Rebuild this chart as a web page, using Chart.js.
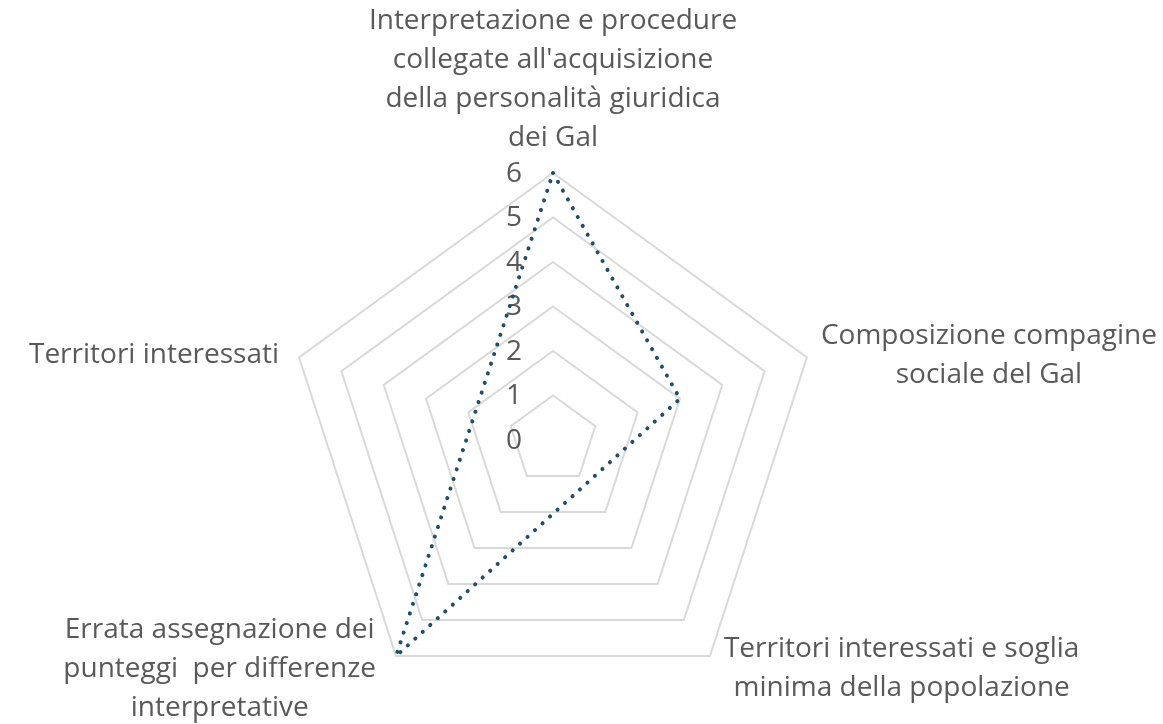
<!DOCTYPE html>
<html>
<head>
<meta charset="utf-8">
<script src="https://cdn.jsdelivr.net/npm/chart.js@4"></script>
<style>
  html, body { margin: 0; padding: 0; background: #fff; }
</style>
</head>
<body>
<canvas id="radarChart" width="1163" height="724"></canvas>
<script>
// Categorie (etichette degli assi)
const categorie = [
  ["Interpretazione e procedure", "collegate all'acquisizione", "della personalità giuridica", "dei Gal"],
  ["Composizione compagine", "sociale del Gal"],
  ["Territori interessati e soglia", "minima della popolazione"],
  ["Errata assegnazione dei", "punteggi  per differenze", "interpretative"],
  ["Territori interessati"]
];
// Valori della serie (null = cella vuota)
const valori = [6, 3, null, 6, null];
// Etichette della scala
const tickValori = [0, 1, 2, 3, 4, 5, 6];

const FONT = '28px "Open Sans"';
const GRIGIO = "#595959";

// Disegna etichette scala e categorie come in Excel
const etichettePlugin = {
  id: "etichette",
  beforeDatasetsDraw(chart) {
    const scale = chart.scales.r;
    const ctx = chart.ctx;
    ctx.save();
    ctx.fillStyle = GRIGIO;
    ctx.font = FONT;
    ctx.textAlign = "center";
    ctx.textBaseline = "middle";

    tickValori.forEach((v) => {
      const y = scale.yCenter - scale.getDistanceFromCenterForValue(v);
      ctx.fillText(String(v), scale.xCenter - 39, y + 1);
    });

    const lineH = 39;
    categorie.forEach((righe, i) => {
      const p = scale.getPointPosition(i, scale.drawingArea);
      const larghezza = Math.max(...righe.map((r) => ctx.measureText(r).width));
      const dx = p.x - scale.xCenter;
      let cx, primaY;
      if (Math.abs(dx) < 1) {
        cx = p.x;
        primaY = p.y - 35 - (righe.length - 1) * lineH;
      } else {
        cx = dx > 0 ? p.x + 14 + larghezza / 2 : p.x - 20 - larghezza / 2;
        const centroY = p.y + (p.y > scale.yCenter ? 13 : -2);
        primaY = centroY - ((righe.length - 1) * lineH) / 2;
      }
      righe.forEach((r, k) => ctx.fillText(r, cx, primaY + k * lineH));
    });
    ctx.restore();
  }
};

const ctx = document.getElementById("radarChart").getContext("2d");
const radarChart = new Chart(ctx, {
  type: "radar",
  data: {
    labels: categorie,
    datasets: [
      {
        data: valori,
        borderColor: "#1f4e6b",
        borderWidth: 4,
        borderDash: [0.1, 10],
        borderCapStyle: "round",
        pointRadius: 0,
        pointHoverRadius: 0,
        fill: false,
        spanGaps: true,
        tension: 0
      }
    ]
  },
  options: {
    responsive: false,
    animation: false,
    layout: {
      padding: { left: 286, right: 343, top: 173, bottom: 17 }
    },
    plugins: {
      legend: { display: false },
      tooltip: { enabled: false }
    },
    scales: {
      r: {
        min: 0,
        max: 6,
        ticks: { stepSize: 1, display: false },
        grid: { color: "#d9d9d9", lineWidth: 2 },
        angleLines: { display: false },
        pointLabels: { display: false }
      }
    }
  },
  plugins: [etichettePlugin]
});
</script>
</body>
</html>
